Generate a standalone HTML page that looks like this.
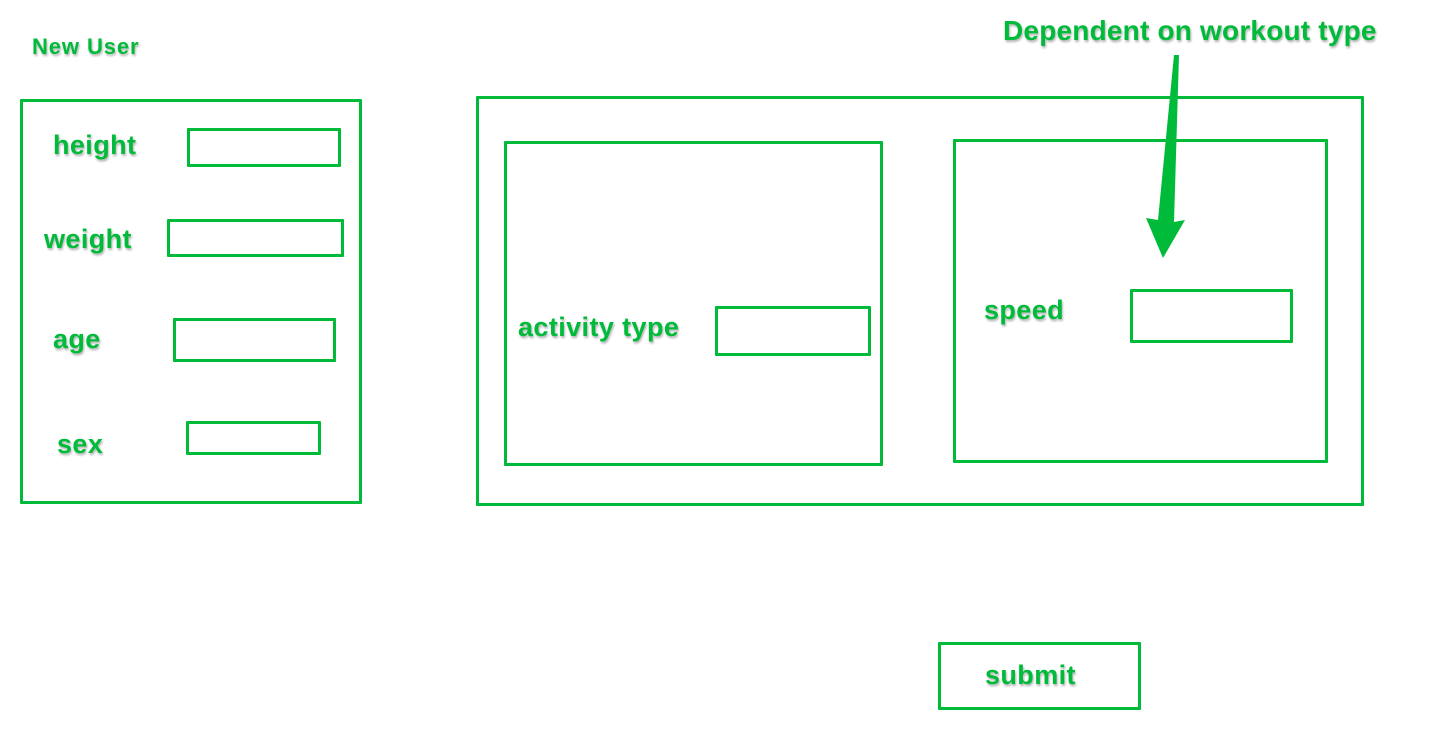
<!DOCTYPE html>
<html><head><style>
body{margin:0;width:1440px;height:747px;background:#fff;position:relative;overflow:hidden;font-family:"Liberation Sans",sans-serif}
.b{position:absolute;border:3px solid #00bb3a;box-sizing:border-box;border-radius:1px}
.t{position:absolute;color:#00bb3a;font-weight:bold;font-size:26px;letter-spacing:0.4px;line-height:1;white-space:nowrap;text-shadow:1px 2px 2px rgba(0,0,0,0.3)}
</style></head><body>
<div class="t" style="left:32px;top:36px;font-size:22px;letter-spacing:0.9px">New User</div>
<div class="b" style="left:20px;top:99px;width:342px;height:405px"></div>
<div class="t" style="left:53px;top:132px;font-size:27px">height</div>
<div class="b" style="left:187px;top:128px;width:154px;height:39px"></div>
<div class="t" style="left:44px;top:226px;font-size:27px">weight</div>
<div class="b" style="left:167px;top:219px;width:177px;height:38px"></div>
<div class="t" style="left:53px;top:326px;font-size:27px">age</div>
<div class="b" style="left:173px;top:318px;width:163px;height:44px"></div>
<div class="t" style="left:57px;top:431px;font-size:27px">sex</div>
<div class="b" style="left:186px;top:421px;width:135px;height:34px"></div>

<div class="b" style="left:476px;top:96px;width:888px;height:410px"></div>
<div class="b" style="left:504px;top:141px;width:379px;height:325px"></div>
<div class="t" style="left:518px;top:314px;font-size:27px">activity type</div>
<div class="b" style="left:715px;top:306px;width:156px;height:50px"></div>
<div class="b" style="left:953px;top:139px;width:375px;height:324px"></div>
<div class="t" style="left:984px;top:297px;font-size:27px">speed</div>
<div class="b" style="left:1130px;top:289px;width:163px;height:54px"></div>

<div class="t" style="left:1003px;top:17px;font-size:28px;letter-spacing:0.2px">Dependent on workout type</div>
<svg style="position:absolute;left:0;top:0" width="1440" height="747">
<polygon points="1174,55 1179,55 1174,222 1185,220 1163,258 1146,218 1158,220" fill="#00bb3a"/>
</svg>

<div class="b" style="left:938px;top:642px;width:203px;height:68px"></div>
<div class="t" style="left:985px;top:662px;font-size:27px">submit</div>
</body></html>
